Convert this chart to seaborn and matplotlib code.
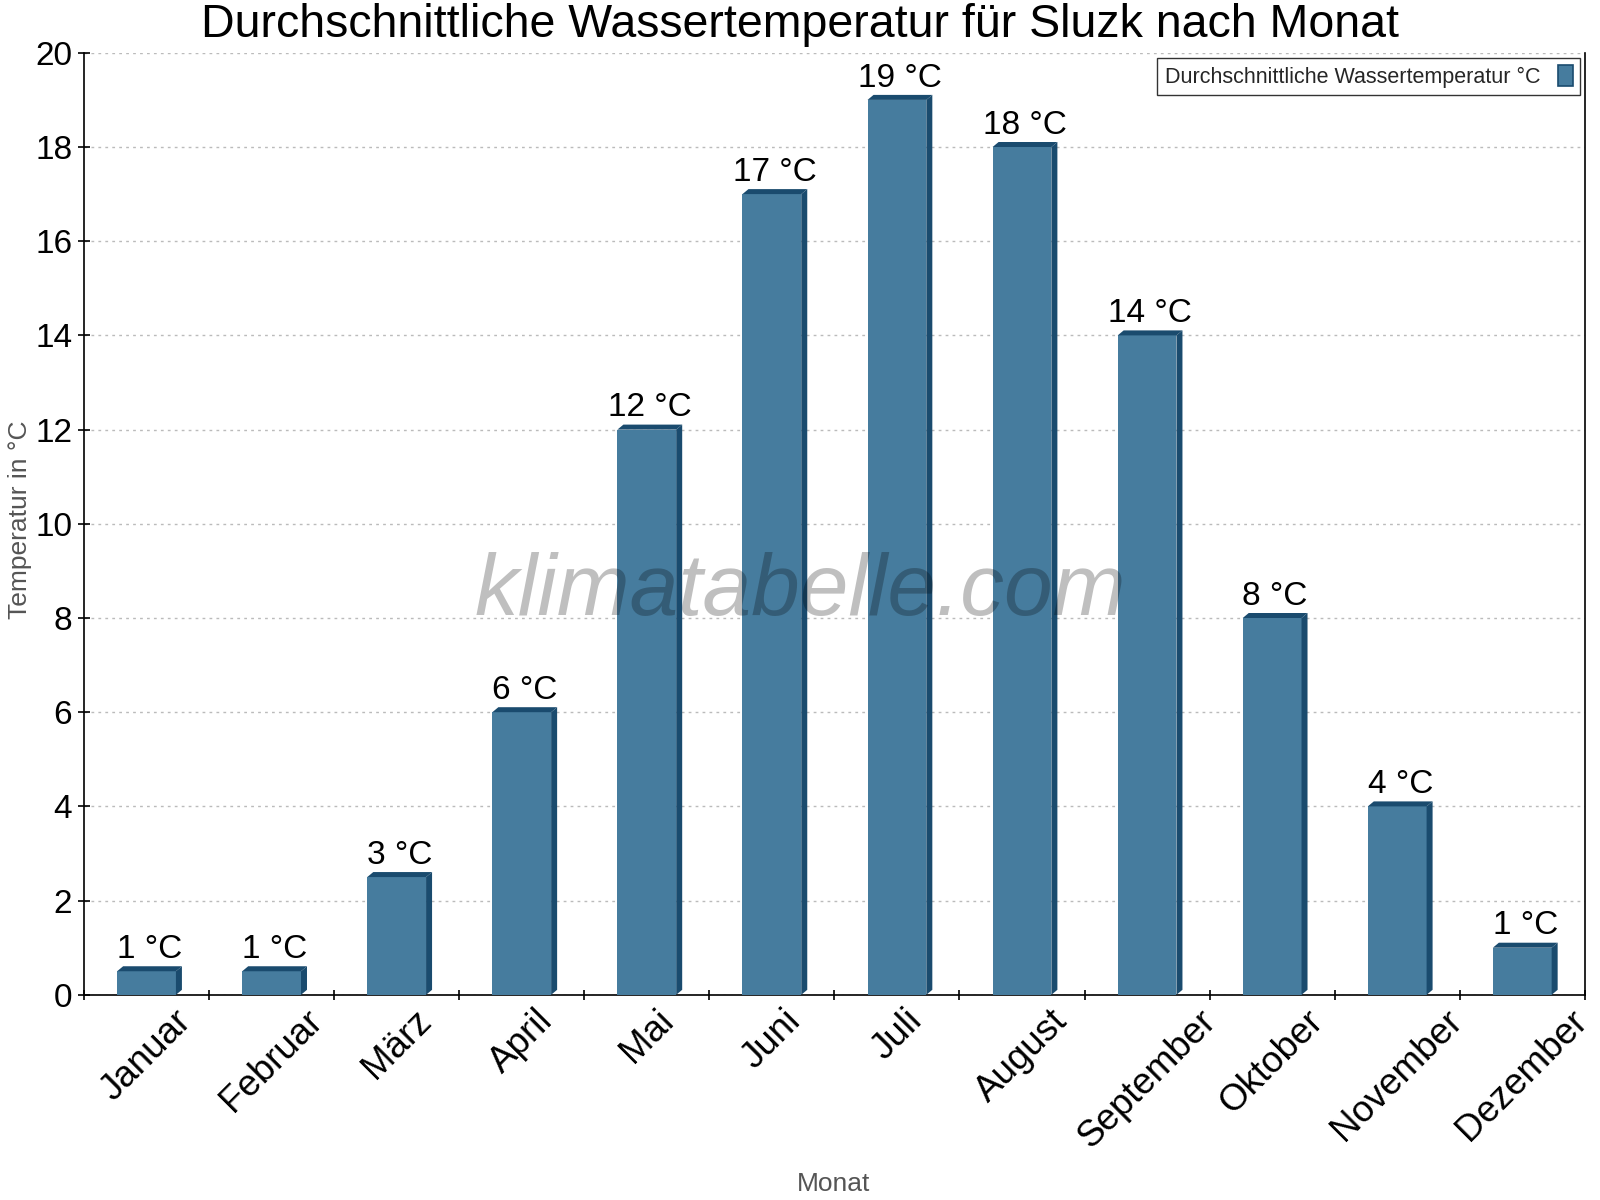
import matplotlib
matplotlib.use('Agg')
from matplotlib import pyplot as plt
from matplotlib.patches import Polygon, Patch
from matplotlib.ticker import FixedLocator, MultipleLocator
import seaborn as sns
import pandas as pd

monate = ['Januar', 'Februar', 'März', 'April', 'Mai', 'Juni', 'Juli',
          'August', 'September', 'Oktober', 'November', 'Dezember']
wassertemp = [0.5, 0.5, 2.5, 6, 12, 17, 19, 18, 14, 8, 4, 1]
beschriftung = ['1 °C', '1 °C', '3 °C', '6 °C', '12 °C', '17 °C', '19 °C',
                '18 °C', '14 °C', '8 °C', '4 °C', '1 °C']

sns.set_style('white')
plt.rcParams['font.family'] = ['Liberation Sans', 'DejaVu Sans']

front = '#467c9e'
dunkel = '#1a4b6e'

df = pd.DataFrame({'Monat': monate, 'Temperatur': wassertemp})

fig = plt.figure(figsize=(16, 12), dpi=100)
ax = fig.add_axes([0.0525, 0.171, 0.938, 0.785])

sns.barplot(data=df, x='Monat', y='Temperatur', color=front, saturation=1,
            width=0.47, ax=ax, zorder=3, linewidth=0, edgecolor='none')

ax.set_xlim(-0.5, 11.5)
ax.set_ylim(0, 20)

# 3D-Effekt: Tiefe in Pixeln -> Datenkoordinaten
breite_px = 0.938 * 1600
hoehe_px = 0.785 * 1200
dx = 6 / breite_px * 12
dy = 5 / hoehe_px * 20

for p, txt in zip(ax.patches, beschriftung):
    x0 = p.get_x()
    x1 = x0 + p.get_width()
    h = p.get_height()
    oben = Polygon([(x0, h), (x0 + dx, h + dy), (x1 + dx, h + dy), (x1, h)],
                   closed=True, facecolor=dunkel, edgecolor='none', zorder=3)
    seite = Polygon([(x1, h), (x1 + dx, h + dy), (x1 + dx, dy), (x1, 0)],
                    closed=True, facecolor=dunkel, edgecolor='none', zorder=3)
    ax.add_patch(oben)
    ax.add_patch(seite)
    ax.annotate(txt, ((x0 + x1) / 2 + dx / 2, h + dy), xytext=(0, 1),
                textcoords='offset points', ha='center', va='bottom',
                fontsize=24, color='black', zorder=5)

# Gitter
ax.yaxis.set_major_locator(MultipleLocator(2))
ax.grid(axis='y', color='#bbbbbb', linestyle=(0, (2, 3)), linewidth=1, zorder=0)
ax.set_axisbelow(True)

# Achsen
for s in ['left', 'bottom', 'right']:
    ax.spines[s].set_visible(True)
    ax.spines[s].set_color('black')
    ax.spines[s].set_linewidth(1.2)
ax.spines['top'].set_visible(False)

ax.xaxis.set_minor_locator(FixedLocator([i - 0.5 for i in range(13)]))
ax.tick_params(axis='x', which='major', length=0, labelsize=26.5, pad=6,
               labelcolor='black')
ax.tick_params(axis='x', which='minor', length=7, width=1.2, direction='inout',
               color='black', bottom=True)
ax.tick_params(axis='y', which='major', length=9, width=1.2, direction='inout',
               left=True, labelsize=24, color='black', labelcolor='black', pad=4)
plt.setp(ax.get_xticklabels(), rotation=45, ha='center', rotation_mode='default')

ax.set_xlabel('')
ax.set_ylabel('')
fig.text(834 / 1600, 1 - 1184 / 1200, 'Monat', fontsize=19, color='#555555',
         ha='center', va='center')
fig.text(20 / 1600, 1 - 520 / 1200, 'Temperatur in °C', fontsize=19, color='#555555',
         ha='center', va='center', rotation=90)

fig.text(0.5, 1 - 3 / 1200, 'Durchschnittliche Wassertemperatur für Sluzk nach Monat',
         fontsize=33.5, color='black', ha='center', va='top')

# Legende
griff = Patch(facecolor=front, edgecolor=dunkel, linewidth=1.2)
leg = ax.legend([griff], ['Durchschnittliche Wassertemperatur °C'],
                loc='upper right', bbox_to_anchor=(0.997, 0.995),
                borderaxespad=0,
                fontsize=15.5, markerfirst=False, frameon=True, fancybox=False,
                handlelength=0.7, handleheight=1.1, borderpad=0.35,
                handletextpad=0.8)
leg.get_frame().set_edgecolor('black')
leg.get_frame().set_linewidth(1)

# Wasserzeichen
fig.text(0.5, 1 - 592 / 1200, 'klimatabelle.com', ha='center',
         va='center', fontsize=63, fontstyle='italic', color='black',
         alpha=0.25, zorder=6)

fig.savefig('out.png', dpi=100)
